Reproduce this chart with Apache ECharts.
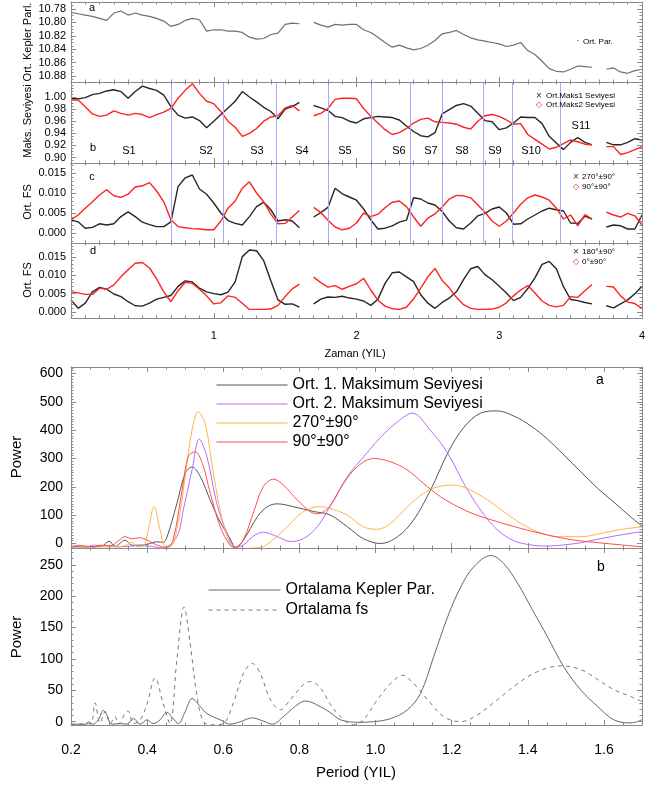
<!DOCTYPE html>
<html><head><meta charset="utf-8">
<script src="https://cdn.jsdelivr.net/npm/echarts@6/dist/echarts.min.js"></script>
<style>html,body{margin:0;padding:0;background:#fff}#c{width:659px;height:789px}</style>
</head><body><div id="c"></div>
<script>
// ---------------- DATA ----------------
const years = [0,0.05,0.1,0.15,0.2,0.25,0.3,0.35,0.4,0.45,
0.5,0.55,0.6,0.65,0.7,0.75,0.8,0.85,0.9,0.95,
1,1.05,1.1,1.15,1.2,1.25,1.3,1.35,1.4,1.45,
1.5,1.55,1.6,1.65,1.7,1.75,1.8,1.85,1.9,1.95,
2,2.05,2.1,2.15,2.2,2.25,2.3,2.35,2.4,2.45,
2.5,2.55,2.6,2.65,2.7,2.75,2.8,2.85,2.9,2.95,
3,3.05,3.1,3.15,3.2,3.25,3.3,3.35,3.4,3.45,
3.5,3.55,3.6,3.65,3.7,3.75,3.8,3.85,3.9,3.95,4];

const keplerPar = [10.785,10.787,10.789,10.791,10.794,10.797,10.786,10.783,10.789,10.786,
10.789,10.791,10.794,10.798,10.806,10.803,10.797,10.794,10.796,10.813,
10.811,10.811,10.813,10.813,10.815,10.822,10.825,10.824,10.818,10.816,
10.803,10.801,10.802,null,10.800,10.804,10.807,10.803,10.804,10.803,
10.803,10.811,10.815,10.822,10.830,10.837,10.834,10.838,10.841,10.839,
10.834,10.827,10.817,10.815,10.812,10.818,10.823,10.826,10.828,10.830,
10.832,10.836,10.834,10.830,10.842,10.848,10.858,10.869,10.873,10.874,
10.870,10.865,10.866,10.867,null,10.870,10.868,10.874,10.876,10.872,10.870];

const maks1 = [0.998,0.997,0.999,1.004,1.006,1.010,1.012,1.009,0.998,1.009,
1.018,1.014,1.011,1.003,0.984,0.970,0.965,0.967,0.961,0.949,
0.960,0.971,0.982,0.993,1.009,1.000,0.992,0.983,0.976,0.964,
0.980,0.984,0.991,null,0.986,0.982,0.978,0.968,0.966,0.960,
0.957,0.964,0.966,0.968,0.967,0.966,0.962,0.952,0.943,0.936,
0.934,0.941,0.972,0.979,0.986,0.989,0.985,0.973,0.961,0.959,
0.946,0.949,0.957,0.967,0.966,0.966,0.956,0.935,0.924,0.913,
0.925,0.933,0.925,0.921,null,0.925,0.921,0.921,0.925,0.931,0.929];

const maks2 = [0.995,0.995,0.984,0.972,0.968,0.970,0.977,0.973,0.970,0.973,
0.971,0.966,0.971,0.975,0.981,0.998,1.011,1.022,1.006,0.993,
0.989,0.976,0.960,0.950,0.935,0.940,0.948,0.960,0.967,0.969,
0.982,0.986,0.977,null,0.969,0.973,0.981,0.996,0.998,0.998,
0.997,0.981,0.968,0.957,0.946,0.938,0.941,0.948,0.957,0.963,
0.965,0.959,0.958,0.957,0.955,0.950,0.947,0.960,0.969,0.971,
0.968,0.962,0.955,0.956,0.938,0.930,0.922,0.914,0.917,0.923,
0.929,0.926,0.922,0.921,null,0.918,0.918,0.905,0.908,0.913,0.918];

const fs270 = [0.0033,0.0028,0.0012,0.0014,0.0023,0.0020,0.0023,0.0041,0.0053,0.0041,
0.0027,0.0021,0.0016,0.0016,0.0028,0.0116,0.0138,0.0145,0.0110,0.0097,
0.0075,0.0050,0.0031,0.0024,0.0020,0.0041,0.0066,0.0077,0.0058,0.0030,
0.0033,0.0030,0.0013,null,0.0040,0.0051,0.0064,0.0112,0.0098,0.0090,
0.0082,0.0060,0.0033,0.0010,0.0012,0.0018,0.0027,0.0032,0.0088,0.0085,
0.0075,0.0070,0.0054,0.0030,0.0013,0.0010,0.0025,0.0043,0.0049,0.0060,
0.0065,0.0050,0.0022,0.0023,0.0035,0.0045,0.0055,0.0062,0.0058,0.0055,
0.0025,0.0024,0.0042,0.0035,null,0.0015,0.0020,0.0018,0.0010,0.0010,0.0045];

const fs90 = [0.0033,0.0045,0.0062,0.0078,0.0095,0.0108,0.0093,0.0089,0.0097,0.0115,
0.0118,0.0126,0.0105,0.0078,0.0033,0.0016,0.0013,0.0011,0.0010,0.0008,
0.0008,0.0030,0.0062,0.0080,0.0112,0.0128,0.0100,0.0078,0.0047,0.0023,
0.0024,0.0040,0.0056,null,0.0064,0.0051,0.0032,0.0015,0.0008,0.0012,
0.0025,0.0050,0.0041,0.0047,0.0063,0.0077,0.0080,0.0066,0.0040,0.0017,
0.0037,0.0048,0.0065,0.0085,0.0094,0.0093,0.0088,0.0070,0.0052,0.0030,
0.0017,0.0030,0.0050,0.0072,0.0088,0.0095,0.0090,0.0082,0.0062,0.0035,
0.0045,0.0018,0.0046,0.0035,null,0.0052,0.0045,0.0040,0.0049,0.0043,0.0020];

const fs180 = [0.0033,0.0010,0.0024,0.0055,0.0067,0.0062,0.0049,0.0042,0.0028,0.0017,
0.0016,0.0024,0.0035,0.0040,0.0045,0.0070,0.0085,0.0082,0.0065,0.0055,
0.0050,0.0047,0.0054,0.0082,0.0151,0.0169,0.0167,0.0140,0.0085,0.0033,
0.0021,0.0022,0.0013,null,0.0022,0.0035,0.0041,0.0040,0.0043,0.0038,
0.0035,0.0030,0.0018,0.0035,0.0078,0.0107,0.0109,0.0096,0.0083,0.0047,
0.0024,0.0010,0.0026,0.0038,0.0055,0.0088,0.0118,0.0124,0.0102,0.0088,
0.0070,0.0052,0.0031,0.0040,0.0064,0.0093,0.0130,0.0138,0.0118,0.0069,
0.0034,0.0031,0.0026,0.0022,null,0.0017,0.0011,0.0022,0.0033,0.0050,0.0070];

const fs0 = [0.0055,0.0052,0.0048,0.0048,0.0065,0.0062,0.0074,0.0096,0.0115,0.0133,
0.0135,0.0120,0.0090,0.0055,0.0028,0.0058,0.0081,0.0078,0.0062,0.0044,
0.0022,0.0025,0.0044,0.0040,0.0024,0.0007,0.0007,0.0007,0.0008,0.0018,
0.0042,0.0063,0.0076,null,0.0095,0.0080,0.0068,0.0072,0.0062,0.0070,
0.0077,0.0092,0.0060,0.0032,0.0016,0.0009,0.0007,0.0013,0.0036,0.0065,
0.0096,0.0119,0.0086,0.0066,0.0040,0.0020,0.0010,0.0007,0.0007,0.0008,
0.0013,0.0025,0.0044,0.0060,0.0072,0.0052,0.0030,0.0018,0.0014,0.0018,
0.0042,0.0040,0.0058,0.0075,null,0.0070,0.0068,0.0044,0.0027,0.0023,0.0010];

// segment boundaries (years) and segment names
const boundaries = [0.70,1.07,1.44,1.80,2.10,2.38,2.60,2.89,3.09,3.43];
const segNames = ['S1','S2','S3','S4','S5','S6','S7','S8','S9','S10','S11'];

// power spectra [period (YIL), power]
const specMaks1 = [[0.20,-12],[0.24,-12],[0.28,-10],[0.30,8],[0.316,-10],[0.342,12],[0.36,-6],[0.38,-6],[0.40,-3],[0.426,6],[0.442,4],[0.452,22],[0.478,140],[0.50,247],[0.518,270],[0.54,235],[0.566,152],[0.592,76],[0.618,17],[0.632,-13],[0.653,12],[0.69,95],[0.716,130],[0.742,140],[0.784,130],[0.837,113],[0.88,101],[0.926,59],[0.968,17],[1.013,0],[1.058,24],[1.10,83],[1.145,190],[1.19,320],[1.232,410],[1.276,460],[1.32,468],[1.363,450],[1.408,415],[1.452,368],[1.495,312],[1.54,252],[1.584,194],[1.626,146],[1.671,93],[1.70,62]];
const specMaks2 = [[0.20,-12],[0.22,-6],[0.24,-12],[0.26,-6],[0.29,-8],[0.33,-12],[0.37,-8],[0.41,-10],[0.44,-16],[0.478,24],[0.495,118],[0.518,260],[0.537,368],[0.557,307],[0.583,142],[0.61,36],[0.632,-13],[0.653,-5],[0.68,27],[0.705,40],[0.742,24],[0.776,7],[0.81,17],[0.847,59],[0.88,130],[0.926,236],[0.968,305],[1.013,374],[1.058,430],[1.097,460],[1.145,398],[1.19,318],[1.232,212],[1.276,118],[1.32,48],[1.363,10],[1.408,-5],[1.452,-9],[1.495,-5],[1.54,3],[1.584,15],[1.626,26],[1.671,36],[1.70,42]];
const spec270 = [[0.20,12],[0.21,-12],[0.26,-12],[0.32,-12],[0.345,-6],[0.36,4],[0.373,-12],[0.39,-9],[0.403,48],[0.418,130],[0.434,48],[0.447,-10],[0.46,-12],[0.478,48],[0.50,236],[0.518,401],[0.534,465],[0.553,420],[0.574,248],[0.60,71],[0.626,-12],[0.653,-17],[0.697,-14],[0.73,12],[0.768,59],[0.81,112],[0.855,130],[0.88,124],[0.926,100],[0.968,59],[1.005,50],[1.04,71],[1.084,130],[1.126,177],[1.163,200],[1.205,206],[1.25,188],[1.295,153],[1.337,112],[1.382,71],[1.426,41],[1.479,24],[1.54,24],[1.584,33],[1.637,48],[1.70,59]];
const spec90 = [[0.20,-12],[0.23,-8],[0.26,-12],[0.28,-6],[0.303,-8],[0.325,10],[0.342,24],[0.36,17],[0.38,20],[0.40,12],[0.426,-6],[0.452,-14],[0.468,12],[0.492,189],[0.508,307],[0.526,324],[0.545,283],[0.566,177],[0.592,59],[0.618,-6],[0.632,-15],[0.653,14],[0.68,112],[0.705,200],[0.732,227],[0.758,206],[0.795,153],[0.829,112],[0.848,105],[0.88,132],[0.916,212],[0.952,271],[0.995,300],[1.04,288],[1.084,259],[1.126,212],[1.171,165],[1.216,130],[1.258,104],[1.32,77],[1.382,53],[1.452,30],[1.521,12],[1.584,3],[1.645,-5],[1.70,-12]];
const specKepler = [[0.20,-4],[0.24,-4],[0.245,0],[0.258,-4],[0.272,3],[0.285,18],[0.294,11],[0.307,-4],[0.33,-3],[0.347,-4],[0.364,5],[0.382,-4],[0.40,3],[0.416,-3],[0.434,3],[0.452,15],[0.468,5],[0.482,-3],[0.50,16],[0.518,37],[0.54,24],[0.557,13],[0.592,3],[0.618,-4],[0.645,0],[0.676,6],[0.705,1],[0.729,-4],[0.758,8],[0.79,25],[0.816,33],[0.855,24],[0.88,15],[0.908,3],[0.953,-1],[0.995,0],[1.04,5],[1.084,19],[1.118,45],[1.153,104],[1.19,168],[1.224,215],[1.258,247],[1.303,265],[1.337,252],[1.374,220],[1.408,183],[1.452,135],[1.495,87],[1.54,50],[1.584,24],[1.626,3],[1.671,-2],[1.70,3]];
const specFs = [[0.20,-4],[0.25,-3],[0.263,30],[0.276,-2],[0.29,16],[0.303,-3],[0.316,8],[0.324,-4],[0.342,13],[0.35,17],[0.364,-3],[0.382,3],[0.40,29],[0.421,70],[0.442,29],[0.46,-3],[0.478,98],[0.497,183],[0.513,125],[0.53,45],[0.548,0],[0.574,-5],[0.60,-3],[0.626,29],[0.653,77],[0.676,93],[0.697,77],[0.724,35],[0.75,19],[0.776,35],[0.81,59],[0.829,64],[0.855,54],[0.88,29],[0.908,8],[0.942,-5],[0.968,3],[1.005,35],[1.04,61],[1.071,74],[1.10,61],[1.137,35],[1.179,8],[1.224,0],[1.268,11],[1.32,35],[1.374,61],[1.426,80],[1.487,89],[1.54,83],[1.584,67],[1.626,51],[1.671,40],[1.70,32]];

// tick labels
const yearTicks = [0,1,2,3,4];
const yearLabels = [1,2,3,4];
const keplerTicks = [10.78,10.80,10.82,10.84,10.86,10.88];
const maksTicks = [0.90,0.92,0.94,0.96,0.98,1.00];
const fsTicks = [0.000,0.005,0.010,0.015];
const periodTicks = [0.2,0.4,0.6,0.8,1.0,1.2,1.4,1.6];
const powerTicksA = [0,100,200,300,400,500,600];
const powerTicksB = [0,50,100,150,200,250];

// ---------------- CHART ----------------
const FONT = "'Liberation Sans', Arial, Helvetica, sans-serif";
const AX = '#8a8a8a';
function steps(a, b, s){ const o=[]; const n=Math.round((b-a)/s); for(let i=0;i<=n;i++) o.push(+(a+i*s).toFixed(6)); return o; }

const panels = [
  {grid:{left:71,top:2,width:571,height:80},
   x:{min:0,max:4,major:yearTicks,minor:steps(0,4,0.1)},
   y:{min:10.7695,max:10.889,inverse:true,major:keplerTicks,minor:steps(10.77,10.885,0.005),dec:2}},
  {grid:{left:71,top:82,width:571,height:81},
   x:{min:0,max:4,major:yearTicks,minor:steps(0,4,0.1)},
   y:{min:0.8909,max:1.0248,major:maksTicks,minor:steps(0.895,1.02,0.005),dec:2}},
  {grid:{left:71,top:163,width:571,height:80},
   x:{min:0,max:4,major:yearTicks,minor:steps(0,4,0.1)},
   y:{min:-0.0025,max:0.0175,major:fsTicks,minor:steps(-0.002,0.017,0.001),dec:3}},
  {grid:{left:71,top:243,width:571,height:75},
   x:{min:0,max:4,major:yearTicks,minor:steps(0,4,0.1),labels:yearLabels,dec:0},
   y:{min:-0.00164,max:0.01882,major:fsTicks,minor:steps(-0.001,0.018,0.001),dec:3}},
  {grid:{left:71,top:367,width:571,height:181},
   x:{min:0.2,max:1.7,major:periodTicks,minor:steps(0.2,1.7,0.05)},
   y:{min:-15.9,max:623,major:powerTicksA,minor:steps(-10,620,10),dec:0,big:true}},
  {grid:{left:71,top:548,width:571,height:177},
   x:{min:0.2,max:1.7,major:periodTicks,minor:steps(0.2,1.7,0.05),labels:periodTicks,dec:1,big:true},
   y:{min:-5.3,max:277,major:powerTicksB,minor:steps(0,270,10),dec:0,big:true}}
];

const xAxis=[], yAxis=[];
function mk(g, pos, c, major, labels, big){
  return {type:'value', gridIndex:g, position:pos, min:c.min, max:c.max, inverse:!!c.inverse,
    axisLine:{show:major, onZero:false, lineStyle:{color:AX,width:1}},
    axisTick:{show:true, inside:true, length: major?5:2.5, customValues: major?c.major:c.minor, lineStyle:{color:AX,width:1}},
    axisLabel:{show:!!labels, customValues: labels||c.major, fontFamily:FONT, color:'#000',
      fontSize: big?14:11, margin: (pos==='left')?(big?8:5):(big?18:12),
      formatter: v => (+v).toFixed(c.dec)},
    splitLine:{show:false}, minorTick:{show:false}, splitArea:{show:false}, z:5};
}
panels.forEach((p,g)=>{
  xAxis.push(mk(g,'bottom',p.x,true,p.x.labels,p.x.big));
  xAxis.push(mk(g,'bottom',p.x,false,null));
  xAxis.push(mk(g,'top',p.x,true,null));
  xAxis.push(mk(g,'top',p.x,false,null));
  yAxis.push(mk(g,'left',p.y,true,p.y.major,p.y.big));
  yAxis.push(mk(g,'left',p.y,false,null));
  yAxis.push(mk(g,'right',p.y,true,null));
  yAxis.push(mk(g,'right',p.y,false,null));
});

const pair = vals => years.map((t,i)=>[t, vals[i]===null?'-':vals[i]]);
const BLACK='#262626', RED='#ff2222';
function tline(g, vals, color, w, extra){
  return Object.assign({type:'line', xAxisIndex:4*g, yAxisIndex:4*g, data:pair(vals), symbol:'none', showSymbol:false,
    connectNulls:false, lineStyle:{color:color,width:w}, itemStyle:{color:color}, silent:true}, extra||{});
}
const bLines = {markLine:{silent:true, symbol:['none','none'], label:{show:false},
  lineStyle:{color:'#a8a8ff',width:1,type:'solid'}, data:boundaries.map(v=>({xAxis:v}))}};
function sline(g, name, data, color, type){
  return {type:'line', name:name, xAxisIndex:4*g, yAxisIndex:4*g, data:data, symbol:'none', showSymbol:false,
    smooth:0.35, lineStyle:{color:color,width:1,type:type||'solid'}, itemStyle:{color:color}, silent:true};
}

const series = [
  tline(0, keplerPar, '#707070', 1.2),
  tline(1, maks1, BLACK, 1.4, bLines),
  tline(1, maks2, RED, 1.4),
  tline(2, fs270, BLACK, 1.4, bLines),
  tline(2, fs90, RED, 1.4),
  tline(3, fs180, BLACK, 1.4),
  tline(3, fs0, RED, 1.4),
  sline(4,'Ort. 1. Maksimum Seviyesi', specMaks1, '#555555'),
  sline(4,'Ort. 2. Maksimum Seviyesi', specMaks2, '#b56cff'),
  sline(4,'270°±90°', spec270, '#ffb347'),
  sline(4,'90°±90°', spec90, '#ff4d4d'),
  sline(5,'Ortalama Kepler Par.', specKepler, '#666666'),
  sline(5,'Ortalama fs', specFs, '#777777', [4,4])
];

function txt(text, x, y, size, opts){
  opts = opts||{};
  return {type:'text', x:x, y:y, rotation:opts.rot||0, silent:true, z:20,
    style:{text:text, font: size+'px '+FONT, fill:opts.color||'#000',
      align:opts.align||'center', verticalAlign:'middle', textAlign:opts.align||'center', textVerticalAlign:'middle'}};
}
const segPos = [[129,151],[206,151],[257,151],[302,151],[345,151],[399,151],[431,151],[462,151],[495,151],[531,151],[581,126]];
const graphic = [
  txt('Ort. Kepler Parl.',28,42,11,{rot:Math.PI/2}),
  txt('Maks. Seviyesi',28,121,11,{rot:Math.PI/2}),
  txt('Ort. FS',28,202,11,{rot:Math.PI/2}),
  txt('Ort. FS',28,280,11,{rot:Math.PI/2}),
  txt('Power',17,457,15,{rot:Math.PI/2}),
  txt('Power',17,637,15,{rot:Math.PI/2}),
  txt('Zaman (YIL)',355,354,11),
  txt('Period (YIL)',356,773,15),
  txt('a',92,8,11), txt('b',93,148,11), txt('c',92,177,11), txt('d',93,251,11),
  txt('a',600,380,14), txt('b',601,567,14),
  txt('·',578,41,10,{color:'#555'}),
  txt('Ort. Par.',583,42,8,{align:'left'}),
  txt('×',539,96,10,{color:'#333'}), txt('Ort.Maks1 Seviyesi',546,96,8,{align:'left'}),
  txt('◇',539,105,8,{color:RED}), txt('Ort.Maks2 Seviyesi',546,105,8,{align:'left'}),
  txt('×',576,177,10,{color:'#333'}), txt('270°±90°',582,177,8,{align:'left'}),
  txt('◇',576,187,8,{color:RED}), txt('90°±90°',582,187,8,{align:'left'}),
  txt('×',576,252,10,{color:'#333'}), txt('180°±90°',582,252,8,{align:'left'}),
  txt('◇',576,262,8,{color:RED}), txt('0°±90°',582,262,8,{align:'left'})
].concat(segNames.map((s,i)=>txt(s,segPos[i][0],segPos[i][1],11)));

const hideSym = {color:'rgba(0,0,0,0)', borderColor:'rgba(0,0,0,0)', borderWidth:0, opacity:0};
const option = {
  animation:false, backgroundColor:'#fff',
  grid: panels.map(p=>Object.assign({show:false, containLabel:false}, p.grid)),
  xAxis, yAxis, series, graphic,
  legend:[
    {data:['Ort. 1. Maksimum Seviyesi','Ort. 2. Maksimum Seviyesi','270°±90°','90°±90°'],
     orient:'vertical', left:211, top:372, itemWidth:71, itemHeight:14, itemGap:3, selectedMode:false,
     itemStyle:hideSym, lineStyle:{width:1},
     textStyle:{fontFamily:FONT, fontSize:16, color:'#000'}},
    {data:['Ortalama Kepler Par.','Ortalama fs'],
     orient:'vertical', left:203, top:577, itemWidth:72, itemHeight:14, itemGap:4, selectedMode:false,
     itemStyle:hideSym, lineStyle:{width:1},
     textStyle:{fontFamily:FONT, fontSize:16, color:'#000'}}
  ]
};
const chart = echarts.init(document.getElementById('c'));
chart.setOption(option);
</script></body></html>
